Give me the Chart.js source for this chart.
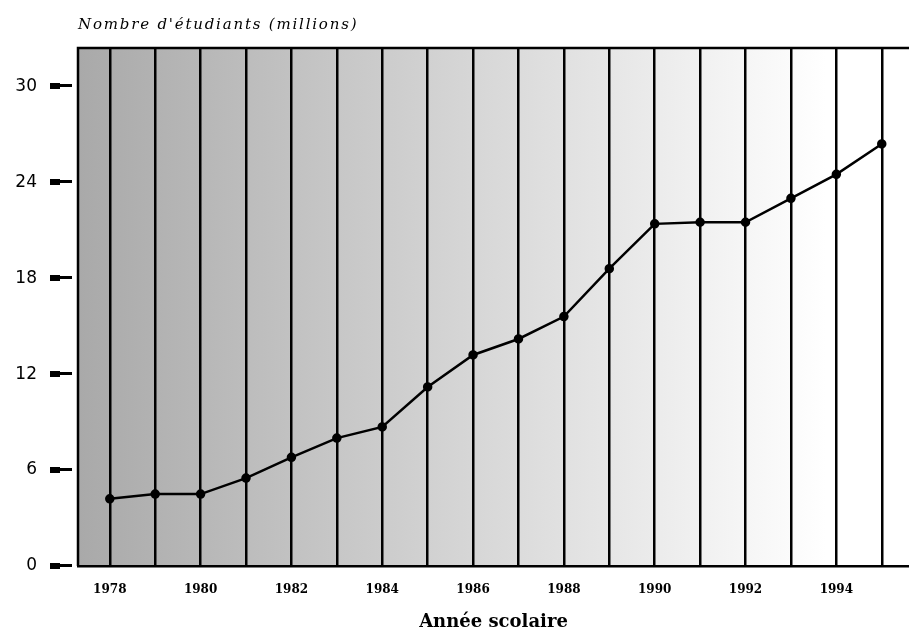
<!DOCTYPE html>
<html>
<head>
<meta charset="utf-8">
<script src="https://cdn.jsdelivr.net/npm/chart.js@4.4.0/dist/chart.umd.min.js"></script>
<style>
  html, body { margin: 0; padding: 0; background: #fff; overflow: hidden; }
  #wrap { position: relative; width: 909px; height: 637px; }
  canvas { display: block; }
</style>
</head>
<body>
<div id="wrap"><canvas id="myChart"></canvas></div>
<script>
// Données
var years = [1978, 1979, 1980, 1981, 1982, 1983, 1984, 1985, 1986, 1987, 1988, 1989, 1990, 1991, 1992, 1993, 1994, 1995];
var students = [4.2, 4.5, 4.5, 5.5, 6.8, 8.0, 8.7, 11.2, 13.2, 14.2, 15.6, 18.6, 21.4, 21.5, 21.5, 23.0, 24.5, 26.4];
var yTicks = [0, 6, 12, 18, 24, 30];
var xLabelYears = [1978, 1980, 1982, 1984, 1986, 1988, 1990, 1992, 1994];

var points = years.map(function (y, i) { return { x: y, y: students[i] }; });

// fond dégradé + cadre + petites marques sur l'axe y
var decor = {
    id: 'decor',
    beforeDraw: function (chart) {
        var a = chart.chartArea;
        var ctx = chart.ctx;
        var g = ctx.createLinearGradient(a.left, 0, a.right, 0);
        g.addColorStop(0, '#a9a9a9');
        g.addColorStop(0.9, '#ffffff');
        g.addColorStop(1, '#ffffff');
        ctx.save();
        ctx.fillStyle = g;
        ctx.fillRect(a.left, a.top, a.right - a.left, a.bottom - a.top);
        ctx.restore();
    },
    afterDraw: function (chart) {
        var a = chart.chartArea;
        var ctx = chart.ctx;
        var ys = chart.scales.y;
        ctx.save();
        ctx.strokeStyle = '#000';
        ctx.lineWidth = 2.5;
        ctx.beginPath();
        ctx.moveTo(a.left, a.bottom);
        ctx.lineTo(a.left, a.top);
        ctx.lineTo(a.right, a.top);
        ctx.stroke();
        ctx.fillStyle = '#000';
        yTicks.forEach(function (v) {
            var py = Math.round(ys.getPixelForValue(v));
            ctx.fillRect(a.left - 28, py - 3, 10, 6);
            ctx.fillRect(a.left - 28, py - 2, 22, 3);
        });
        // titre en haut
        ctx.font = 'italic 15px "DejaVu Serif"';
        ctx.letterSpacing = '1.8px';
        ctx.textAlign = 'left';
        ctx.textBaseline = 'middle';
        ctx.fillText("Nombre d'étudiants (millions)", a.left, 25);
        ctx.restore();
    }
};

var ctx = document.getElementById('myChart').getContext('2d');
var myChart = new Chart(ctx, {
    type: 'line',
    data: {
        datasets: [{
            data: points,
            borderColor: '#000',
            borderWidth: 2.5,
            pointRadius: 3.5,
            pointBackgroundColor: '#000',
            pointBorderColor: '#000',
            tension: 0,
            clip: false
        }]
    },
    options: {
        responsive: true,
        maintainAspectRatio: false,
        animation: false,
        layout: { autoPadding: false, padding: { top: 48, right: 0, bottom: 0, left: 0 } },
        plugins: {
            legend: { display: false },
            tooltip: { enabled: false }
        },
        scales: {
            x: {
                type: 'linear',
                min: 1977.3,
                max: 1995.6,
                afterFit: function (s) { s.height = 71; s.paddingRight = 0; s.paddingLeft = 0; },
                afterBuildTicks: function (s) {
                    s.ticks = years.map(function (y) { return { value: y }; });
                },
                ticks: {
                    autoSkip: false,
                    maxRotation: 0,
                    padding: 17,
                    color: '#000',
                    font: { family: 'DejaVu Serif', weight: 'bold', size: 12 },
                    callback: function (v) { return xLabelYears.indexOf(v) >= 0 ? String(v) : ''; }
                },
                grid: { color: '#000', lineWidth: 2.5, drawTicks: false },
                border: { display: true, color: '#000', width: 2.5 },
                title: {
                    display: true,
                    text: 'Année scolaire',
                    color: '#000',
                    font: { family: 'DejaVu Serif', weight: 'bold', size: 18 },
                    padding: { top: 0, bottom: 4 }
                }
            },
            y: {
                min: 0,
                max: 32.4,
                afterFit: function (s) { s.width = 78; s.paddingTop = 0; s.paddingBottom = 0; },
                afterBuildTicks: function (s) {
                    s.ticks = yTicks.map(function (v) { return { value: v }; });
                },
                ticks: {
                    padding: 41,
                    color: '#000',
                    font: { family: 'DejaVu Sans', size: 17 }
                },
                grid: { drawOnChartArea: false, drawTicks: false },
                border: { display: false }
            }
        }
    },
    plugins: [decor]
});
</script>
</body>
</html>
